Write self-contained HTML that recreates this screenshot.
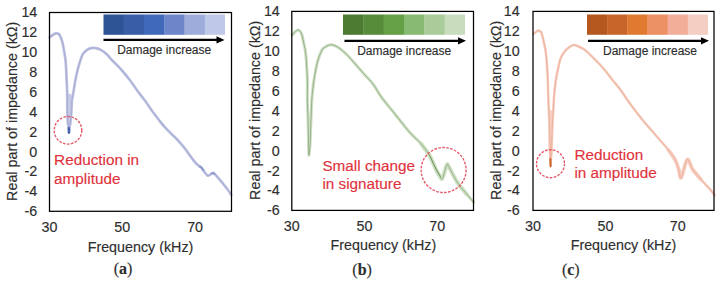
<!DOCTYPE html><html><head><meta charset="utf-8"><style>html,body{margin:0;padding:0;background:#fff;}body{width:721px;height:282px;overflow:hidden;}svg{display:block;} text{paint-order:stroke;} .ax text{stroke:#2E2E2E;stroke-width:0.15px;}</style></head><body>
<svg width="721" height="282" viewBox="0 0 721 282" xmlns="http://www.w3.org/2000/svg">
<rect width="721" height="282" fill="#fff"/>
<g class="ax" font-family='"Liberation Sans", sans-serif' font-size="14.3" fill="#2E2E2E"><path d="M69.30,96.00 C69.30,98.67 69.33,107.33 69.30,112.00 C69.27,116.67 69.13,122.00 69.10,124.00" fill="none" stroke="#C6CBE7" stroke-width="4.60" stroke-linecap="round" stroke-linejoin="round"/><path d="M49.50,37.50 C49.92,37.17 51.08,36.15 52.00,35.50 C52.92,34.85 54.17,33.97 55.00,33.60 C55.83,33.23 56.30,33.15 57.00,33.30 C57.70,33.45 58.53,33.72 59.20,34.50 C59.87,35.28 60.43,36.58 61.00,38.00 C61.57,39.42 62.12,41.00 62.60,43.00 C63.08,45.00 63.42,47.17 63.90,50.00 C64.38,52.83 65.12,56.67 65.50,60.00 C65.88,63.33 66.02,66.67 66.20,70.00 C66.38,73.33 66.45,76.67 66.60,80.00 C66.75,83.33 66.98,86.67 67.10,90.00 C67.22,93.33 67.27,96.67 67.30,100.00 C67.33,103.33 67.23,106.67 67.30,110.00 C67.37,113.33 67.50,117.17 67.70,120.00 C67.90,122.83 68.28,124.92 68.50,127.00 C68.72,129.08 68.82,132.50 69.00,132.50 C69.18,132.50 69.33,129.08 69.60,127.00 C69.87,124.92 70.28,122.83 70.60,120.00 C70.92,117.17 71.27,113.33 71.50,110.00 C71.73,106.67 71.62,103.33 72.00,100.00 C72.38,96.67 73.23,93.33 73.80,90.00 C74.37,86.67 74.77,83.33 75.40,80.00 C76.03,76.67 76.75,73.33 77.60,70.00 C78.45,66.67 79.63,62.63 80.50,60.00 C81.37,57.37 81.83,55.78 82.80,54.20 C83.77,52.62 85.12,51.48 86.30,50.50 C87.48,49.52 88.42,48.72 89.90,48.30 C91.38,47.88 93.52,47.82 95.20,48.00 C96.88,48.18 98.53,48.73 100.00,49.40 C101.47,50.07 102.75,51.07 104.00,52.00 C105.25,52.93 106.18,53.67 107.50,55.00 C108.82,56.33 110.32,58.30 111.90,60.00 C113.48,61.70 115.32,63.45 117.00,65.20 C118.68,66.95 119.87,68.03 122.00,70.50 C124.13,72.97 127.32,76.75 129.80,80.00 C132.28,83.25 134.45,86.67 136.90,90.00 C139.35,93.33 141.83,96.33 144.50,100.00 C147.17,103.67 149.97,108.00 152.90,112.00 C155.83,116.00 159.63,120.97 162.10,124.00 C164.57,127.03 165.97,128.37 167.70,130.20 C169.43,132.03 170.88,133.40 172.50,135.00 C174.12,136.60 175.45,137.68 177.40,139.80 C179.35,141.92 182.18,145.20 184.20,147.70 C186.22,150.20 187.73,152.43 189.50,154.80 C191.27,157.17 193.30,160.10 194.80,161.90 C196.30,163.70 197.43,164.68 198.50,165.60 C199.57,166.52 200.25,166.40 201.20,167.40 C202.15,168.40 203.12,170.23 204.20,171.60 C205.28,172.97 206.60,175.17 207.70,175.60 C208.80,176.03 209.82,174.63 210.80,174.20 C211.78,173.77 212.47,172.48 213.60,173.00 C214.73,173.52 216.07,175.58 217.60,177.30 C219.13,179.02 221.07,181.18 222.80,183.30 C224.53,185.42 226.58,188.08 228.00,190.00 C229.42,191.92 230.75,194.00 231.30,194.80" fill="none" stroke="#C2C6E3" stroke-width="2.80" stroke-linejoin="round" stroke-linecap="round"/><path d="M49.50,37.50 C49.92,37.17 51.08,36.15 52.00,35.50 C52.92,34.85 54.17,33.97 55.00,33.60 C55.83,33.23 56.30,33.15 57.00,33.30 C57.70,33.45 58.53,33.72 59.20,34.50 C59.87,35.28 60.43,36.58 61.00,38.00 C61.57,39.42 62.12,41.00 62.60,43.00 C63.08,45.00 63.42,47.17 63.90,50.00 C64.38,52.83 65.12,56.67 65.50,60.00 C65.88,63.33 66.02,66.67 66.20,70.00 C66.38,73.33 66.45,76.67 66.60,80.00 C66.75,83.33 66.98,86.67 67.10,90.00 C67.22,93.33 67.27,96.67 67.30,100.00 C67.33,103.33 67.23,106.67 67.30,110.00 C67.37,113.33 67.50,117.17 67.70,120.00 C67.90,122.83 68.28,124.92 68.50,127.00 C68.72,129.08 68.82,132.50 69.00,132.50 C69.18,132.50 69.33,129.08 69.60,127.00 C69.87,124.92 70.28,122.83 70.60,120.00 C70.92,117.17 71.27,113.33 71.50,110.00 C71.73,106.67 71.62,103.33 72.00,100.00 C72.38,96.67 73.23,93.33 73.80,90.00 C74.37,86.67 74.77,83.33 75.40,80.00 C76.03,76.67 76.75,73.33 77.60,70.00 C78.45,66.67 79.63,62.63 80.50,60.00 C81.37,57.37 81.83,55.78 82.80,54.20 C83.77,52.62 85.12,51.48 86.30,50.50 C87.48,49.52 88.42,48.72 89.90,48.30 C91.38,47.88 93.52,47.82 95.20,48.00 C96.88,48.18 98.53,48.73 100.00,49.40 C101.47,50.07 102.75,51.07 104.00,52.00 C105.25,52.93 106.18,53.67 107.50,55.00 C108.82,56.33 110.32,58.30 111.90,60.00 C113.48,61.70 115.32,63.45 117.00,65.20 C118.68,66.95 119.87,68.03 122.00,70.50 C124.13,72.97 127.32,76.75 129.80,80.00 C132.28,83.25 134.45,86.67 136.90,90.00 C139.35,93.33 141.83,96.33 144.50,100.00 C147.17,103.67 149.97,108.00 152.90,112.00 C155.83,116.00 159.63,120.97 162.10,124.00 C164.57,127.03 165.97,128.37 167.70,130.20 C169.43,132.03 170.88,133.40 172.50,135.00 C174.12,136.60 175.45,137.68 177.40,139.80 C179.35,141.92 182.18,145.20 184.20,147.70 C186.22,150.20 187.73,152.43 189.50,154.80 C191.27,157.17 193.30,160.10 194.80,161.90 C196.30,163.70 197.43,164.68 198.50,165.60 C199.57,166.52 200.25,166.40 201.20,167.40 C202.15,168.40 203.12,170.23 204.20,171.60 C205.28,172.97 206.60,175.17 207.70,175.60 C208.80,176.03 209.82,174.63 210.80,174.20 C211.78,173.77 212.47,172.48 213.60,173.00 C214.73,173.52 216.07,175.58 217.60,177.30 C219.13,179.02 221.07,181.18 222.80,183.30 C224.53,185.42 226.58,188.08 228.00,190.00 C229.42,191.92 230.75,194.00 231.30,194.80" fill="none" stroke="#A4A9D1" stroke-width="1.20" stroke-linejoin="round" stroke-linecap="round" opacity="0.8"/><path d="M68.90,128.20 C68.91,128.58 68.93,129.77 68.95,130.50 C68.97,131.23 68.99,132.25 69.00,132.60" fill="none" stroke="#4364AE" stroke-width="2.40" stroke-linecap="round" stroke-linejoin="round"/><path d="M199.80,166.60 C200.08,166.77 200.97,167.07 201.50,167.60 C202.03,168.13 202.75,169.43 203.00,169.80" fill="none" stroke="#8394CC" stroke-width="1.80" stroke-linecap="round" stroke-linejoin="round"/><path d="M211.50,173.40 C211.75,173.33 212.50,172.87 213.00,173.00 C213.50,173.13 214.25,174.00 214.50,174.20" fill="none" stroke="#8394CC" stroke-width="1.60" stroke-linecap="round" stroke-linejoin="round"/><rect x="49.50" y="12.50" width="182.00" height="198.80" fill="none" stroke="#000" stroke-width="1.25"/><text x="37.30" y="17.40" text-anchor="end">14</text><text x="37.30" y="37.28" text-anchor="end">12</text><text x="37.30" y="57.16" text-anchor="end">10</text><text x="37.30" y="77.04" text-anchor="end">8</text><text x="37.30" y="96.92" text-anchor="end">6</text><text x="37.30" y="116.80" text-anchor="end">4</text><text x="37.30" y="136.68" text-anchor="end">2</text><text x="37.30" y="156.56" text-anchor="end">0</text><text x="37.30" y="176.44" text-anchor="end">-2</text><text x="37.30" y="196.32" text-anchor="end">-4</text><text x="37.30" y="216.20" text-anchor="end">-6</text><text x="49.50" y="232.40" text-anchor="middle">30</text><text x="122.30" y="232.40" text-anchor="middle">50</text><text x="195.10" y="232.40" text-anchor="middle">70</text><text x="140.50" y="252.00" text-anchor="middle" font-size="15.40" textLength="105.60" lengthAdjust="spacingAndGlyphs">Frequency (kHz)</text><text transform="translate(17.40,111.30) rotate(-90)" text-anchor="middle" font-size="14.3">Real part of impedance (k&#937;)</text><text x="123.00" y="274.00" text-anchor="middle" font-family='"Liberation Serif", serif' font-size="16">(<tspan font-weight="bold">a</tspan>)</text><rect x="103.50" y="14.50" width="20.55" height="20.30" fill="#2F5496"/><rect x="123.75" y="14.50" width="20.55" height="20.30" fill="#3A5DA8"/><rect x="144.00" y="14.50" width="20.55" height="20.30" fill="#4169BA"/><rect x="164.25" y="14.50" width="20.55" height="20.30" fill="#6D86CA"/><rect x="184.50" y="14.50" width="20.55" height="20.30" fill="#9DACDA"/><rect x="204.75" y="14.50" width="20.25" height="20.30" fill="#BFC8E6"/><line x1="103.50" y1="39.90" x2="218.50" y2="39.90" stroke="#000" stroke-width="2.2"/><path d="M216.50,36.30 L224.50,39.90 L216.50,43.50 Z" fill="#000"/><text x="164.20" y="53.80" text-anchor="middle" font-size="12">Damage increase</text><circle cx="68.00" cy="130.30" r="13.80" fill="none" stroke="#E55767" stroke-width="1.35" stroke-dasharray="2.6 1.4"/><text x="54.10" y="165.30" fill="#DF323D" font-size="15.3" style="stroke:#DF323D;stroke-width:0.15px">Reduction in</text><text x="54.10" y="184.30" fill="#DF323D" font-size="15.3" style="stroke:#DF323D;stroke-width:0.15px">amplitude</text></g>
<g class="ax" font-family='"Liberation Sans", sans-serif' font-size="14.3" fill="#2E2E2E"><path d="M421.10,143.80 C422.57,145.85 427.40,151.78 429.90,156.10 C432.40,160.42 434.32,166.12 436.10,169.70 C437.88,173.28 439.63,176.05 440.60,177.60 C441.57,179.15 441.47,179.20 441.90,179.00 C442.33,178.80 442.47,178.53 443.20,176.40 C443.93,174.27 445.60,168.20 446.30,166.20 C447.00,164.20 447.02,164.40 447.40,164.40 C447.78,164.40 446.97,163.25 448.60,166.20 C450.23,169.15 454.12,177.37 457.20,182.10 C460.28,186.83 465.45,192.52 467.10,194.60" fill="none" stroke="#D3E5C9" stroke-width="4.20" stroke-linecap="round" stroke-linejoin="round"/><path d="M292.00,35.00 C292.55,34.45 294.23,32.53 295.30,31.70 C296.37,30.87 297.35,29.65 298.40,30.00 C299.45,30.35 300.70,31.57 301.60,33.80 C302.50,36.03 303.20,40.70 303.80,43.40 C304.40,46.10 304.78,47.23 305.20,50.00 C305.62,52.77 306.02,56.67 306.30,60.00 C306.58,63.33 306.72,66.67 306.90,70.00 C307.08,73.33 307.32,76.67 307.40,80.00 C307.48,83.33 307.40,86.67 307.40,90.00 C307.40,93.33 307.32,95.83 307.40,100.00 C307.48,104.17 307.75,110.00 307.90,115.00 C308.05,120.00 308.18,125.00 308.30,130.00 C308.42,135.00 308.48,140.75 308.60,145.00 C308.72,149.25 308.77,155.50 309.00,155.50 C309.23,155.50 309.73,149.25 310.00,145.00 C310.27,140.75 310.40,135.00 310.60,130.00 C310.80,125.00 311.00,120.00 311.20,115.00 C311.40,110.00 311.55,104.17 311.80,100.00 C312.05,95.83 312.33,93.33 312.70,90.00 C313.07,86.67 313.50,83.33 314.00,80.00 C314.50,76.67 315.03,73.33 315.70,70.00 C316.37,66.67 316.95,63.33 318.00,60.00 C319.05,56.67 320.92,52.08 322.00,50.00 C323.08,47.92 323.42,48.28 324.50,47.50 C325.58,46.72 327.12,45.73 328.50,45.30 C329.88,44.87 331.03,44.43 332.80,44.90 C334.57,45.37 336.62,46.33 339.10,48.10 C341.58,49.87 344.85,52.67 347.70,55.50 C350.55,58.33 353.37,61.90 356.20,65.10 C359.03,68.30 361.87,71.50 364.70,74.70 C367.53,77.90 370.43,80.58 373.20,84.30 C375.97,88.02 378.05,92.52 381.30,97.00 C384.55,101.48 388.92,106.47 392.70,111.20 C396.48,115.93 400.93,121.62 404.00,125.40 C407.07,129.18 408.25,130.83 411.10,133.90 C413.95,136.97 417.97,140.10 421.10,143.80 C424.23,147.50 427.40,151.78 429.90,156.10 C432.40,160.42 434.32,166.12 436.10,169.70 C437.88,173.28 439.63,176.05 440.60,177.60 C441.57,179.15 441.47,179.20 441.90,179.00 C442.33,178.80 442.47,178.53 443.20,176.40 C443.93,174.27 445.60,168.20 446.30,166.20 C447.00,164.20 447.02,164.40 447.40,164.40 C447.78,164.40 446.97,163.25 448.60,166.20 C450.23,169.15 454.12,177.37 457.20,182.10 C460.28,186.83 464.38,191.28 467.10,194.60 C469.82,197.92 472.43,200.77 473.50,202.00" fill="none" stroke="#CFE1C5" stroke-width="3.10" stroke-linejoin="round" stroke-linecap="round"/><path d="M292.00,35.00 C292.55,34.45 294.23,32.53 295.30,31.70 C296.37,30.87 297.35,29.65 298.40,30.00 C299.45,30.35 300.70,31.57 301.60,33.80 C302.50,36.03 303.20,40.70 303.80,43.40 C304.40,46.10 304.78,47.23 305.20,50.00 C305.62,52.77 306.02,56.67 306.30,60.00 C306.58,63.33 306.72,66.67 306.90,70.00 C307.08,73.33 307.32,76.67 307.40,80.00 C307.48,83.33 307.40,86.67 307.40,90.00 C307.40,93.33 307.32,95.83 307.40,100.00 C307.48,104.17 307.75,110.00 307.90,115.00 C308.05,120.00 308.18,125.00 308.30,130.00 C308.42,135.00 308.48,140.75 308.60,145.00 C308.72,149.25 308.77,155.50 309.00,155.50 C309.23,155.50 309.73,149.25 310.00,145.00 C310.27,140.75 310.40,135.00 310.60,130.00 C310.80,125.00 311.00,120.00 311.20,115.00 C311.40,110.00 311.55,104.17 311.80,100.00 C312.05,95.83 312.33,93.33 312.70,90.00 C313.07,86.67 313.50,83.33 314.00,80.00 C314.50,76.67 315.03,73.33 315.70,70.00 C316.37,66.67 316.95,63.33 318.00,60.00 C319.05,56.67 320.92,52.08 322.00,50.00 C323.08,47.92 323.42,48.28 324.50,47.50 C325.58,46.72 327.12,45.73 328.50,45.30 C329.88,44.87 331.03,44.43 332.80,44.90 C334.57,45.37 336.62,46.33 339.10,48.10 C341.58,49.87 344.85,52.67 347.70,55.50 C350.55,58.33 353.37,61.90 356.20,65.10 C359.03,68.30 361.87,71.50 364.70,74.70 C367.53,77.90 370.43,80.58 373.20,84.30 C375.97,88.02 378.05,92.52 381.30,97.00 C384.55,101.48 388.92,106.47 392.70,111.20 C396.48,115.93 400.93,121.62 404.00,125.40 C407.07,129.18 408.25,130.83 411.10,133.90 C413.95,136.97 417.97,140.10 421.10,143.80 C424.23,147.50 427.40,151.78 429.90,156.10 C432.40,160.42 434.32,166.12 436.10,169.70 C437.88,173.28 439.63,176.05 440.60,177.60 C441.57,179.15 441.47,179.20 441.90,179.00 C442.33,178.80 442.47,178.53 443.20,176.40 C443.93,174.27 445.60,168.20 446.30,166.20 C447.00,164.20 447.02,164.40 447.40,164.40 C447.78,164.40 446.97,163.25 448.60,166.20 C450.23,169.15 454.12,177.37 457.20,182.10 C460.28,186.83 464.38,191.28 467.10,194.60 C469.82,197.92 472.43,200.77 473.50,202.00" fill="none" stroke="#819D73" stroke-width="0.90" stroke-linejoin="round" stroke-linecap="round" opacity="0.8"/><path d="M429.20,154.60 C430.17,156.63 433.12,163.15 435.00,166.80 C436.88,170.45 439.58,174.88 440.50,176.50" fill="none" stroke="#6F9658" stroke-width="0.90" stroke-linecap="round" stroke-linejoin="round"/><rect x="291.80" y="11.40" width="181.70" height="199.00" fill="none" stroke="#000" stroke-width="1.25"/><text x="279.80" y="16.30" text-anchor="end">14</text><text x="279.80" y="36.20" text-anchor="end">12</text><text x="279.80" y="56.10" text-anchor="end">10</text><text x="279.80" y="76.00" text-anchor="end">8</text><text x="279.80" y="95.90" text-anchor="end">6</text><text x="279.80" y="115.80" text-anchor="end">4</text><text x="279.80" y="135.70" text-anchor="end">2</text><text x="279.80" y="155.60" text-anchor="end">0</text><text x="279.80" y="175.50" text-anchor="end">-2</text><text x="279.80" y="195.40" text-anchor="end">-4</text><text x="279.80" y="215.30" text-anchor="end">-6</text><text x="291.80" y="231.40" text-anchor="middle">30</text><text x="364.48" y="231.40" text-anchor="middle">50</text><text x="437.16" y="231.40" text-anchor="middle">70</text><text x="383.40" y="249.80" text-anchor="middle" font-size="15.40" textLength="105.60" lengthAdjust="spacingAndGlyphs">Frequency (kHz)</text><text transform="translate(259.70,110.30) rotate(-90)" text-anchor="middle" font-size="14.3">Real part of impedance (k&#937;)</text><text x="362.10" y="274.50" text-anchor="middle" font-family='"Liberation Serif", serif' font-size="16">(<tspan font-weight="bold">b</tspan>)</text><rect x="343.00" y="14.50" width="20.63" height="20.30" fill="#4D7B32"/><rect x="363.33" y="14.50" width="20.63" height="20.30" fill="#578C3B"/><rect x="383.67" y="14.50" width="20.63" height="20.30" fill="#64A046"/><rect x="404.00" y="14.50" width="20.63" height="20.30" fill="#89BA72"/><rect x="424.33" y="14.50" width="20.63" height="20.30" fill="#AACC9A"/><rect x="444.67" y="14.50" width="20.33" height="20.30" fill="#C8DDBD"/><line x1="344.50" y1="40.80" x2="460.00" y2="40.80" stroke="#000" stroke-width="2.2"/><path d="M458.00,37.20 L466.00,40.80 L458.00,44.40 Z" fill="#000"/><text x="404.20" y="54.80" text-anchor="middle" font-size="12">Damage increase</text><circle cx="443.60" cy="170.00" r="22.50" fill="none" stroke="#E55767" stroke-width="1.35" stroke-dasharray="2.6 1.4"/><text x="322.40" y="171.20" fill="#DF323D" font-size="15.3" style="stroke:#DF323D;stroke-width:0.15px">Small change</text><text x="322.40" y="189.20" fill="#DF323D" font-size="15.3" style="stroke:#DF323D;stroke-width:0.15px">in signature</text></g>
<g class="ax" font-family='"Liberation Sans", sans-serif' font-size="14.3" fill="#2E2E2E"><path d="M668.40,150.00 C669.53,151.67 673.50,156.83 675.20,160.00 C676.90,163.17 677.60,166.05 678.60,169.00 C679.60,171.95 679.77,179.27 681.20,177.70 C682.63,176.13 685.33,161.05 687.20,159.60 C689.07,158.15 690.10,165.68 692.40,169.00 C694.70,172.32 699.57,177.75 701.00,179.50" fill="none" stroke="#F7D6CA" stroke-width="4.00" stroke-linecap="round" stroke-linejoin="round"/><path d="M550.60,112.00 C550.63,115.83 550.77,128.33 550.80,135.00 C550.83,141.67 550.80,149.17 550.80,152.00" fill="none" stroke="#F6D3C6" stroke-width="4.60" stroke-linecap="round" stroke-linejoin="round"/><path d="M533.50,34.00 C533.92,33.67 535.20,32.57 536.00,32.00 C536.80,31.43 537.38,30.47 538.30,30.60 C539.22,30.73 540.62,31.02 541.50,32.80 C542.38,34.58 542.93,38.43 543.60,41.30 C544.27,44.17 545.00,46.88 545.50,50.00 C546.00,53.12 546.30,56.67 546.60,60.00 C546.90,63.33 547.10,66.67 547.30,70.00 C547.50,73.33 547.65,75.83 547.80,80.00 C547.95,84.17 548.03,90.00 548.20,95.00 C548.37,100.00 548.58,105.00 548.80,110.00 C549.02,115.00 549.30,119.17 549.50,125.00 C549.70,130.83 549.82,138.08 550.00,145.00 C550.18,151.92 550.33,166.50 550.60,166.50 C550.87,166.50 551.30,151.92 551.60,145.00 C551.90,138.08 552.12,130.83 552.40,125.00 C552.68,119.17 553.00,115.00 553.30,110.00 C553.60,105.00 553.88,99.17 554.20,95.00 C554.52,90.83 554.83,88.00 555.20,85.00 C555.57,82.00 555.97,79.50 556.40,77.00 C556.83,74.50 557.10,73.10 557.80,70.00 C558.50,66.90 559.43,61.52 560.60,58.40 C561.77,55.28 563.15,53.30 564.80,51.30 C566.45,49.30 568.88,47.45 570.50,46.40 C572.12,45.35 573.17,44.98 574.50,45.00 C575.83,45.02 577.25,45.97 578.50,46.50 C579.75,47.03 580.92,47.62 582.00,48.20 C583.08,48.78 583.60,48.87 585.00,50.00 C586.40,51.13 588.65,53.33 590.40,55.00 C592.15,56.67 593.12,57.50 595.50,60.00 C597.88,62.50 601.87,66.67 604.70,70.00 C607.53,73.33 609.85,76.67 612.50,80.00 C615.15,83.33 618.12,86.67 620.60,90.00 C623.08,93.33 625.03,96.67 627.40,100.00 C629.77,103.33 632.27,106.67 634.80,110.00 C637.33,113.33 639.87,116.67 642.60,120.00 C645.33,123.33 648.33,126.67 651.20,130.00 C654.07,133.33 656.93,136.67 659.80,140.00 C662.67,143.33 665.83,146.67 668.40,150.00 C670.97,153.33 673.50,156.83 675.20,160.00 C676.90,163.17 677.60,166.05 678.60,169.00 C679.60,171.95 679.77,179.27 681.20,177.70 C682.63,176.13 685.33,161.05 687.20,159.60 C689.07,158.15 690.10,165.68 692.40,169.00 C694.70,172.32 698.08,176.13 701.00,179.50 C703.92,182.87 707.65,186.58 709.90,189.20 C712.15,191.82 713.73,194.20 714.50,195.20" fill="none" stroke="#F5CCBD" stroke-width="2.60" stroke-linejoin="round" stroke-linecap="round"/><path d="M533.50,34.00 C533.92,33.67 535.20,32.57 536.00,32.00 C536.80,31.43 537.38,30.47 538.30,30.60 C539.22,30.73 540.62,31.02 541.50,32.80 C542.38,34.58 542.93,38.43 543.60,41.30 C544.27,44.17 545.00,46.88 545.50,50.00 C546.00,53.12 546.30,56.67 546.60,60.00 C546.90,63.33 547.10,66.67 547.30,70.00 C547.50,73.33 547.65,75.83 547.80,80.00 C547.95,84.17 548.03,90.00 548.20,95.00 C548.37,100.00 548.58,105.00 548.80,110.00 C549.02,115.00 549.30,119.17 549.50,125.00 C549.70,130.83 549.82,138.08 550.00,145.00 C550.18,151.92 550.33,166.50 550.60,166.50 C550.87,166.50 551.30,151.92 551.60,145.00 C551.90,138.08 552.12,130.83 552.40,125.00 C552.68,119.17 553.00,115.00 553.30,110.00 C553.60,105.00 553.88,99.17 554.20,95.00 C554.52,90.83 554.83,88.00 555.20,85.00 C555.57,82.00 555.97,79.50 556.40,77.00 C556.83,74.50 557.10,73.10 557.80,70.00 C558.50,66.90 559.43,61.52 560.60,58.40 C561.77,55.28 563.15,53.30 564.80,51.30 C566.45,49.30 568.88,47.45 570.50,46.40 C572.12,45.35 573.17,44.98 574.50,45.00 C575.83,45.02 577.25,45.97 578.50,46.50 C579.75,47.03 580.92,47.62 582.00,48.20 C583.08,48.78 583.60,48.87 585.00,50.00 C586.40,51.13 588.65,53.33 590.40,55.00 C592.15,56.67 593.12,57.50 595.50,60.00 C597.88,62.50 601.87,66.67 604.70,70.00 C607.53,73.33 609.85,76.67 612.50,80.00 C615.15,83.33 618.12,86.67 620.60,90.00 C623.08,93.33 625.03,96.67 627.40,100.00 C629.77,103.33 632.27,106.67 634.80,110.00 C637.33,113.33 639.87,116.67 642.60,120.00 C645.33,123.33 648.33,126.67 651.20,130.00 C654.07,133.33 656.93,136.67 659.80,140.00 C662.67,143.33 665.83,146.67 668.40,150.00 C670.97,153.33 673.50,156.83 675.20,160.00 C676.90,163.17 677.60,166.05 678.60,169.00 C679.60,171.95 679.77,179.27 681.20,177.70 C682.63,176.13 685.33,161.05 687.20,159.60 C689.07,158.15 690.10,165.68 692.40,169.00 C694.70,172.32 698.08,176.13 701.00,179.50 C703.92,182.87 707.65,186.58 709.90,189.20 C712.15,191.82 713.73,194.20 714.50,195.20" fill="none" stroke="#EBAD97" stroke-width="1.00" stroke-linejoin="round" stroke-linecap="round" opacity="0.8"/><path d="M550.40,159.00 C550.42,159.67 550.47,161.78 550.50,163.00 C550.53,164.22 550.58,165.75 550.60,166.30" fill="none" stroke="#CD6B33" stroke-width="2.00" stroke-linecap="round" stroke-linejoin="round"/><rect x="533.00" y="11.40" width="181.00" height="199.00" fill="none" stroke="#000" stroke-width="1.25"/><text x="519.60" y="16.30" text-anchor="end">14</text><text x="519.60" y="36.20" text-anchor="end">12</text><text x="519.60" y="56.10" text-anchor="end">10</text><text x="519.60" y="76.00" text-anchor="end">8</text><text x="519.60" y="95.90" text-anchor="end">6</text><text x="519.60" y="115.80" text-anchor="end">4</text><text x="519.60" y="135.70" text-anchor="end">2</text><text x="519.60" y="155.60" text-anchor="end">0</text><text x="519.60" y="175.50" text-anchor="end">-2</text><text x="519.60" y="195.40" text-anchor="end">-4</text><text x="519.60" y="215.30" text-anchor="end">-6</text><text x="533.00" y="231.40" text-anchor="middle">30</text><text x="605.40" y="231.40" text-anchor="middle">50</text><text x="677.80" y="231.40" text-anchor="middle">70</text><text x="623.50" y="250.00" text-anchor="middle" font-size="15.40" textLength="105.60" lengthAdjust="spacingAndGlyphs">Frequency (kHz)</text><text transform="translate(501.20,110.30) rotate(-90)" text-anchor="middle" font-size="14.3">Real part of impedance (k&#937;)</text><text x="570.80" y="274.50" text-anchor="middle" font-family='"Liberation Serif", serif' font-size="16">(<tspan font-weight="bold">c</tspan>)</text><rect x="587.00" y="14.50" width="20.47" height="20.30" fill="#B4581F"/><rect x="607.17" y="14.50" width="20.47" height="20.30" fill="#C8652A"/><rect x="627.33" y="14.50" width="20.47" height="20.30" fill="#E07A30"/><rect x="647.50" y="14.50" width="20.47" height="20.30" fill="#EC9164"/><rect x="667.67" y="14.50" width="20.47" height="20.30" fill="#F2AE98"/><rect x="687.83" y="14.50" width="20.17" height="20.30" fill="#F5CEC3"/><line x1="588.00" y1="40.80" x2="703.00" y2="40.80" stroke="#000" stroke-width="2.2"/><path d="M701.00,37.20 L709.00,40.80 L701.00,44.40 Z" fill="#000"/><text x="650.00" y="54.80" text-anchor="middle" font-size="12">Damage increase</text><circle cx="550.50" cy="163.70" r="14.00" fill="none" stroke="#E55767" stroke-width="1.35" stroke-dasharray="2.6 1.4"/><text x="574.40" y="159.90" fill="#DF323D" font-size="15.3" style="stroke:#DF323D;stroke-width:0.15px">Reduction</text><text x="574.40" y="178.20" fill="#DF323D" font-size="15.3" style="stroke:#DF323D;stroke-width:0.15px">in amplitude</text></g>
</svg></body></html>
